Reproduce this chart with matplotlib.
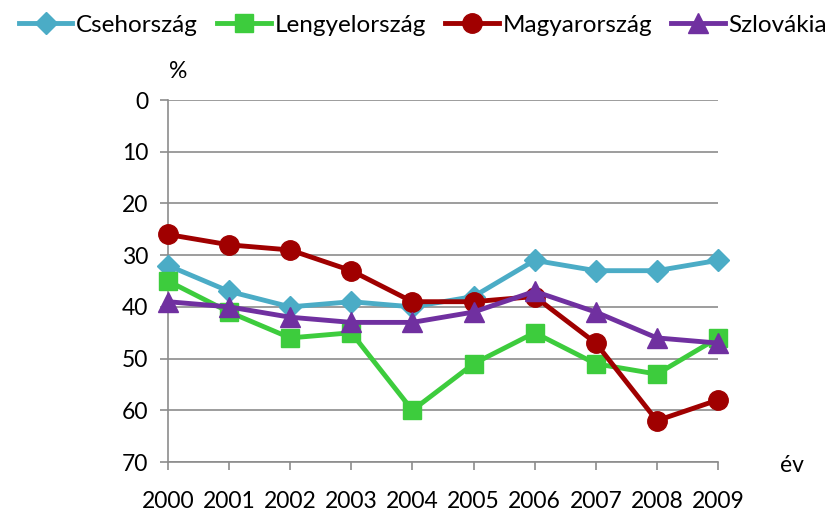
import matplotlib.pyplot as plt

years = [2000, 2001, 2002, 2003, 2004, 2005, 2006, 2007, 2008, 2009]
cseh = [32, 37, 40, 39, 40, 38, 31, 33, 33, 31]
lengyel = [35, 41, 46, 45, 60, 51, 45, 51, 53, 46]
magyar = [26, 28, 29, 33, 39, 39, 38, 47, 62, 58]
szlovak = [39, 40, 42, 43, 43, 41, 37, 41, 46, 47]

plt.rcParams['font.family'] = ['Lato', 'DejaVu Sans']

fig = plt.figure(figsize=(8.37, 5.13), dpi=100)
ax = fig.add_axes([0.2007, 0.0994, 0.6571, 0.7056])

series = [
    ('Csehország', cseh, '#4BACC6', 'D', 11),
    ('Lengyelország', lengyel, '#3DCC3D', 's', 12.5),
    ('Magyarország', magyar, '#A00000', 'o', 14),
    ('Szlovákia', szlovak, '#7030A0', '^', 14),
]
for name, vals, col, mk, ms in series:
    ax.plot(years, vals, color=col, lw=3.5, marker=mk, ms=ms, label=name,
            clip_on=False, zorder=3)

ax.set_xlim(2000, 2009)
ax.set_ylim(70, 0)
ax.set_yticks(range(0, 71, 10))
ax.set_xticks(years)
ax.grid(axis='y', color='#8c8c8c', lw=1.2)
ax.set_axisbelow(True)
for s in ['top', 'right']:
    ax.spines[s].set_visible(False)
for s in ['left', 'bottom']:
    ax.spines[s].set_color('#8c8c8c')
    ax.spines[s].set_linewidth(1.2)
ax.tick_params(axis='y', colors='#8c8c8c', labelcolor='black', labelsize=16.5,
               length=6, width=1.2, pad=8)
ax.tick_params(axis='x', colors='#8c8c8c', labelcolor='black', labelsize=16.5,
               length=6, width=1.2, pad=15)

fig.text(178 / 837, 1 - 72 / 513, '%', fontsize=16.5, ha='center', va='center')
fig.text(792 / 837, 1 - 466 / 513, 'év', fontsize=16.5, ha='center', va='center')

fig.legend(loc='center', bbox_to_anchor=(423 / 837, 1 - 25 / 513), ncol=4, frameon=False,
           fontsize=17.5, handlelength=2.2, handletextpad=0.15, columnspacing=0.8,
           borderaxespad=0, borderpad=0)

fig.savefig('out.png', dpi=100)
